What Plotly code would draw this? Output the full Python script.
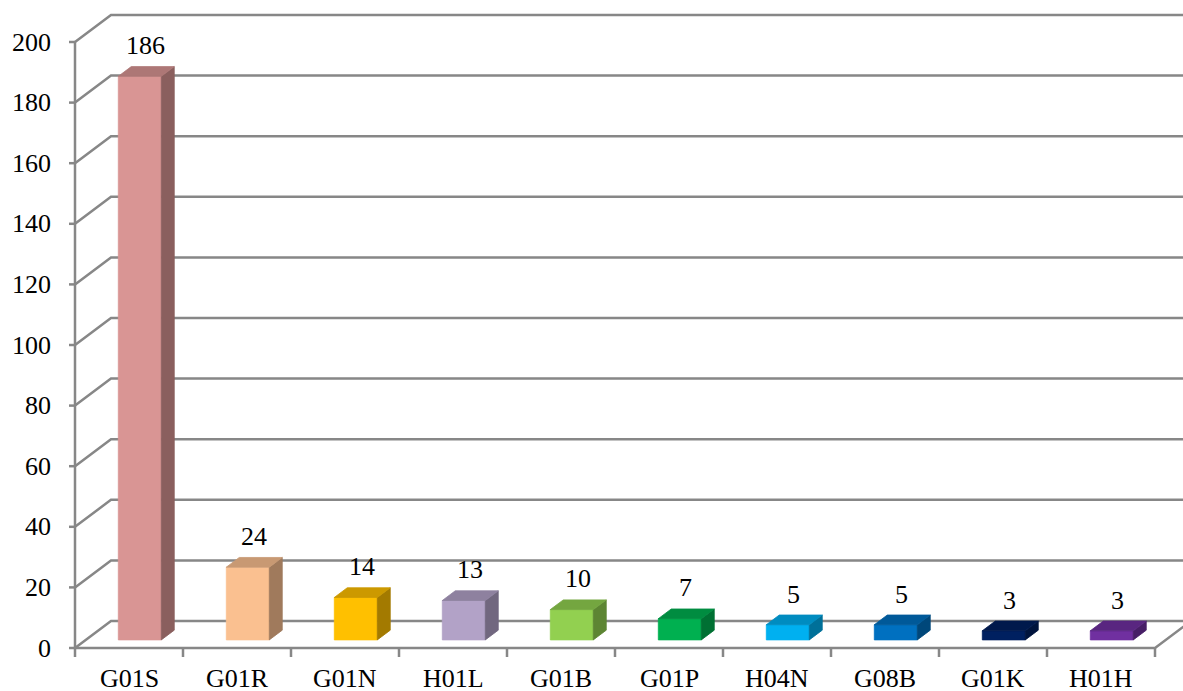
import plotly.graph_objects as go

# Patent classes and document counts
categories = ["G01S", "G01R", "G01N", "H01L", "G01B", "G01P", "H04N", "G08B", "G01K", "H01H"]
values = [186, 24, 14, 13, 10, 7, 5, 5, 3, 3]
y_ticks = list(range(0, 201, 20))

# Face colours of each bar (front face); top and side are shaded from it
front_colors = ["#D99594", "#FAC090", "#FFC000", "#B2A2C7", "#92D050",
                "#00B050", "#00B0F0", "#0070C0", "#002060", "#7030A0"]

W, H = 1183, 691
PX_X = 108.0          # pixels per category on the front plane
PX_Y = 3.03           # pixels per value unit
X0_PX, Y0_PX = 75, 648  # pixel position of the front-plane origin

# oblique depth projection (full depth = 36px right, 27px up)
DX = 36 / PX_X
DY = 27 / PX_Y
D0, D1 = 0.30, 0.66   # bar depth span
HALF_W = 21.5 / PX_X  # half width of a bar's front face

GRID = "#878787"
FONT = dict(family="Liberation Serif, Times New Roman, serif", size=26, color="#000000")


def proj(x, v, d):
    return x + DX * d, v + DY * d


def shade(hex_color, f):
    h = hex_color.lstrip("#")
    r, g, b = (int(h[i:i + 2], 16) for i in (0, 2, 4))
    return "#%02X%02X%02X" % (int(r * f), int(g * f), int(b * f))


fig = go.Figure()


def line(pts, color=GRID, width=2.5):
    fig.add_trace(go.Scatter(x=[p[0] for p in pts], y=[p[1] for p in pts], mode="lines",
                             line=dict(color=color, width=width), hoverinfo="skip",
                             showlegend=False))


def poly(pts, color):
    xs = [p[0] for p in pts] + [pts[0][0]]
    ys = [p[1] for p in pts] + [pts[0][1]]
    fig.add_trace(go.Scatter(x=xs, y=ys, mode="lines", fill="toself", fillcolor=color,
                             line=dict(color=color, width=0.8), hoverinfo="skip",
                             showlegend=False))


n = len(categories)
x_far = 12  # walls run past the right edge

# back wall gridlines and left side-wall diagonals
for v in y_ticks:
    line([proj(0, v, 0), proj(0, v, 1), proj(x_far, v, 1)])
    # tick mark on the value axis
    line([(-6 / PX_X, v), (0, v)])

# value axis
line([(0, 0), (0, y_ticks[-1])])
# floor front edge and right edge
line([(0, 0), (n, 0), proj(n, 0, 1)])
# category ticks
for i in range(n + 1):
    line([(i, 0), (i, -9 / PX_Y)])

# bars
for i, (v, col) in enumerate(zip(values, front_colors)):
    c = i + 0.5
    l, r = c - HALF_W, c + HALF_W
    poly([proj(l, 0, D0), proj(r, 0, D0), proj(r, v, D0), proj(l, v, D0)], col)
    poly([proj(r, 0, D0), proj(r, 0, D1), proj(r, v, D1), proj(r, v, D0)], shade(col, 0.64))
    poly([proj(l, v, D0), proj(r, v, D0), proj(r, v, D1), proj(l, v, D1)], shade(col, 0.8))

annotations = []
# value labels
for i, v in enumerate(values):
    lx, ly = proj(i + 0.5, v, 0.47)
    annotations.append(dict(x=lx, y=v + DY * D1 + 21 / PX_Y, text=str(v), showarrow=False,
                            xanchor="center", yanchor="middle", font=FONT))
# value axis labels
for v in y_ticks:
    annotations.append(dict(x=-22 / PX_X, y=v, text=str(v), showarrow=False,
                            xanchor="right", yanchor="middle", font=FONT))
# category labels (compact box so it stays inside the bottom edge)
for i, cat in enumerate(categories):
    annotations.append(dict(x=i + 0.5, y=-30 / PX_Y, text=cat, showarrow=False,
                            xanchor="center", yanchor="middle", font=FONT,
                            height=24, borderpad=0, valign="middle"))

fig.update_layout(
    width=W, height=H,
    margin=dict(l=0, r=0, t=0, b=0),
    paper_bgcolor="white", plot_bgcolor="white",
    xaxis=dict(range=[-X0_PX / PX_X, (W - X0_PX) / PX_X], visible=False, fixedrange=True),
    yaxis=dict(range=[-(H - Y0_PX) / PX_Y, Y0_PX / PX_Y], visible=False, fixedrange=True),
    annotations=annotations,
    showlegend=False,
)

fig.write_html("out.html")
